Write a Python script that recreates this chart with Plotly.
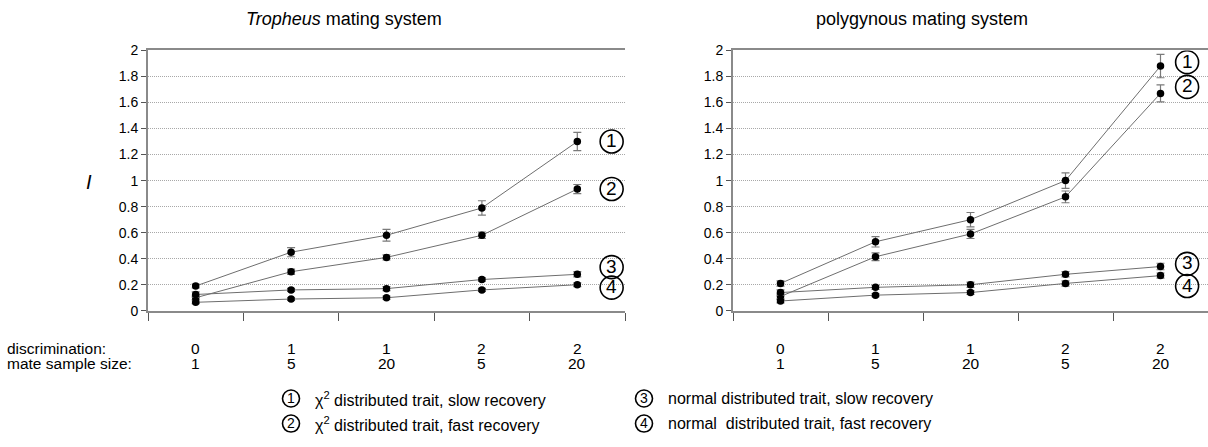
import plotly.graph_objects as go

# Category settings along the x axis
discrimination = ["0", "1", "1", "2", "2"]
mate_sample_size = ["1", "5", "20", "5", "20"]
categories = list(range(5))

# Tropheus mating system: mean I and error bar half-widths
trop_chi_slow = [0.19, 0.45, 0.58, 0.79, 1.30]
trop_chi_slow_err = [0.015, 0.035, 0.045, 0.055, 0.07]
trop_chi_fast = [0.10, 0.30, 0.41, 0.58, 0.935]
trop_chi_fast_err = [0.015, 0.02, 0.02, 0.025, 0.035]
trop_norm_slow = [0.125, 0.16, 0.17, 0.24, 0.28]
trop_norm_slow_err = [0.02, 0.012, 0.015, 0.012, 0.02]
trop_norm_fast = [0.065, 0.09, 0.10, 0.16, 0.20]
trop_norm_fast_err = [0.01, 0.01, 0.012, 0.012, 0.015]

# Polygynous mating system: mean I and error bar half-widths
poly_chi_slow = [0.21, 0.53, 0.70, 1.00, 1.88]
poly_chi_slow_err = [0.02, 0.04, 0.055, 0.06, 0.09]
poly_chi_fast = [0.11, 0.415, 0.59, 0.875, 1.67]
poly_chi_fast_err = [0.02, 0.03, 0.035, 0.045, 0.065]
poly_norm_slow = [0.14, 0.18, 0.20, 0.28, 0.34]
poly_norm_slow_err = [0.02, 0.015, 0.02, 0.02, 0.025]
poly_norm_fast = [0.075, 0.12, 0.14, 0.21, 0.27]
poly_norm_fast_err = [0.015, 0.012, 0.015, 0.02, 0.02]

series_numbers = ["1", "2", "3", "4"]
legend_texts = [
    "χ<sup>2</sup> distributed trait, slow recovery",
    "χ<sup>2</sup> distributed trait, fast recovery",
    "normal distributed trait, slow recovery",
    "normal  distributed trait, fast recovery",
]

W, H = 1208, 447
FONT = "Liberation Sans, Arial, sans-serif"


def px_x(p):
    return p / W


def px_y(p):
    return 1 - p / H


fig = go.Figure()

panels = [
    ("x", "y", [
        (trop_chi_slow, trop_chi_slow_err),
        (trop_chi_fast, trop_chi_fast_err),
        (trop_norm_slow, trop_norm_slow_err),
        (trop_norm_fast, trop_norm_fast_err),
    ]),
    ("x2", "y2", [
        (poly_chi_slow, poly_chi_slow_err),
        (poly_chi_fast, poly_chi_fast_err),
        (poly_norm_slow, poly_norm_slow_err),
        (poly_norm_fast, poly_norm_fast_err),
    ]),
]

for xa, ya, series in panels:
    for vals, errs in series:
        fig.add_trace(go.Scatter(
            x=categories, y=vals, xaxis=xa, yaxis=ya,
            mode="lines+markers",
            line=dict(color="#6e6e6e", width=1),
            marker=dict(color="black", size=7.5),
            error_y=dict(type="data", array=errs, visible=True,
                         color="#7a7a7a", thickness=1.2, width=4),
            showlegend=False, hoverinfo="skip",
        ))

axis_common = dict(
    showline=True, linecolor="#8a8a8a", linewidth=2,
)
x_common = dict(
    axis_common, range=[-0.5, 4.5],
    tickvals=categories, showticklabels=False, ticks="",
    showgrid=False, zeroline=False, mirror=True,
    minor=dict(tick0=-0.5, dtick=1, ticks="outside", ticklen=8,
               tickcolor="#555555", tickwidth=1, showgrid=False),
)
y_common = dict(
    axis_common, range=[0, 2], tickvals=[0, 0.2, 0.4, 0.6, 0.8, 1, 1.2, 1.4, 1.6, 1.8, 2],
    ticktext=["0", "0.2", "0.4", "0.6", "0.8", "1", "1.2", "1.4", "1.6", "1.8", "2"],
    ticks="outside", ticklen=5, tickcolor="#555555", tickwidth=1,
    tickfont=dict(family=FONT, size=14, color="black"),
    showgrid=True, gridcolor="#a8a8a8", gridwidth=1, griddash="1px,1px",
    zeroline=False,
)

ydom = [px_y(314), px_y(44)]
fig.update_layout(
    width=W, height=H,
    margin=dict(l=0, r=0, t=0, b=0),
    paper_bgcolor="white", plot_bgcolor="white",
    xaxis=dict(x_common, domain=[px_x(148), px_x(625)], anchor="y"),
    yaxis=dict(y_common, domain=ydom, anchor="x"),
    xaxis2=dict(x_common, domain=[px_x(733), 1.0], anchor="y2"),
    yaxis2=dict(y_common, domain=ydom, anchor="x2"),
)

annotations = []
shapes = []


def note(text, x, y, xref="paper", yref="paper", xanchor="center", size=15.5):
    annotations.append(dict(text=text, x=x, y=y, xref=xref, yref=yref,
                            xanchor=xanchor, yanchor="middle", showarrow=False,
                            font=dict(family=FONT, size=size, color="black")))


def circled(num, x, y, xref, yref, diameter, size):
    r = diameter / 2
    shapes.append(dict(type="circle", xref=xref, yref=yref,
                       xsizemode="pixel", ysizemode="pixel",
                       xanchor=x, yanchor=y, x0=-r, x1=r, y0=-r, y1=r,
                       line=dict(color="black", width=1.6),
                       fillcolor="rgba(0,0,0,0)", layer="above"))
    annotations.append(dict(text=num, x=x, y=y, xref=xref, yref=yref,
                            xanchor="center", yanchor="middle", showarrow=False,
                            yshift=1,
                            font=dict(family=FONT, size=size, color="black")))


# Panel titles
note("<i>Tropheus</i> mating system", px_x(344), px_y(11), size=18)
note("polygynous mating system", px_x(922), px_y(11), size=18)

# y axis title
note("<i>I</i>", px_x(89), px_y(180), size=20)

# Row labels and per-category settings under each panel
note("discrimination:", px_x(5), px_y(353), xanchor="left")
note("mate sample size:", px_x(5), px_y(369), xanchor="left")
for xa in ["x", "x2"]:
    for c, d, m in zip(categories, discrimination, mate_sample_size):
        note(d, c, px_y(353), xref=xa)
        note(m, c, px_y(369), xref=xa)

# Series numbers at line ends
left_tags = [(4.36, 1.30), (4.36, 0.935), (4.36, 0.335), (4.36, 0.178)]
right_tags = [(4.28, 1.91), (4.28, 1.72), (4.28, 0.36), (4.28, 0.19)]
for (xa, ya, tags) in [("x", "y", left_tags), ("x2", "y2", right_tags)]:
    for num, (tx, ty) in zip(series_numbers, tags):
        circled(num, tx, ty, xa, ya, 23, 19)

# Legend below the panels
legend_pos = [(291, 405), (291, 431), (644, 405), (644, 431)]
for num, txt, (lx, ly) in zip(series_numbers, legend_texts, legend_pos):
    circled(num, px_x(lx), px_y(ly), "paper", "paper", 17, 14)
    note(txt, px_x(lx + 22), px_y(ly), xanchor="left", size=16)

fig.update_layout(annotations=annotations, shapes=shapes)

fig.write_html("out.html")
